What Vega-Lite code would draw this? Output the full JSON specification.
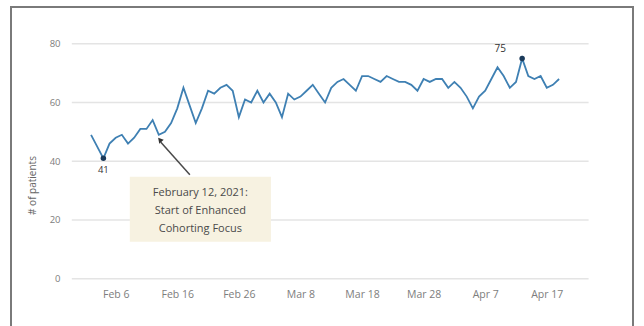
{
  "$schema": "https://vega.github.io/schema/vega-lite/v6.json",
  "width": 622,
  "height": 330.5,
  "autosize": {"type": "none"},
  "padding": {"left": 11, "top": 7, "right": 11, "bottom": -11.5},
  "background": "white",
  "config": {
    "view": {"stroke": "#7a7a7a", "strokeWidth": 2},
    "font": "Open Sans"
  },
  "data": {
    "values": [
      {"date": "2021-02-02T00:00", "value": 49},
      {"date": "2021-02-03T00:00", "value": 45},
      {"date": "2021-02-04T00:00", "value": 41},
      {"date": "2021-02-05T00:00", "value": 46},
      {"date": "2021-02-06T00:00", "value": 48},
      {"date": "2021-02-07T00:00", "value": 49},
      {"date": "2021-02-08T00:00", "value": 46},
      {"date": "2021-02-09T00:00", "value": 48},
      {"date": "2021-02-10T00:00", "value": 51},
      {"date": "2021-02-11T00:00", "value": 51},
      {"date": "2021-02-12T00:00", "value": 54},
      {"date": "2021-02-13T00:00", "value": 49},
      {"date": "2021-02-14T00:00", "value": 50},
      {"date": "2021-02-15T00:00", "value": 53},
      {"date": "2021-02-16T00:00", "value": 58},
      {"date": "2021-02-17T00:00", "value": 65},
      {"date": "2021-02-18T00:00", "value": 59},
      {"date": "2021-02-19T00:00", "value": 53},
      {"date": "2021-02-20T00:00", "value": 58},
      {"date": "2021-02-21T00:00", "value": 64},
      {"date": "2021-02-22T00:00", "value": 63},
      {"date": "2021-02-23T00:00", "value": 65},
      {"date": "2021-02-24T00:00", "value": 66},
      {"date": "2021-02-25T00:00", "value": 64},
      {"date": "2021-02-26T00:00", "value": 55},
      {"date": "2021-02-27T00:00", "value": 61},
      {"date": "2021-02-28T00:00", "value": 60},
      {"date": "2021-03-01T00:00", "value": 64},
      {"date": "2021-03-02T00:00", "value": 60},
      {"date": "2021-03-03T00:00", "value": 63},
      {"date": "2021-03-04T00:00", "value": 60},
      {"date": "2021-03-05T00:00", "value": 55},
      {"date": "2021-03-06T00:00", "value": 63},
      {"date": "2021-03-07T00:00", "value": 61},
      {"date": "2021-03-08T00:00", "value": 62},
      {"date": "2021-03-09T00:00", "value": 64},
      {"date": "2021-03-10T00:00", "value": 66},
      {"date": "2021-03-11T00:00", "value": 63},
      {"date": "2021-03-12T00:00", "value": 60},
      {"date": "2021-03-13T00:00", "value": 65},
      {"date": "2021-03-14T00:00", "value": 67},
      {"date": "2021-03-15T00:00", "value": 68},
      {"date": "2021-03-16T00:00", "value": 66},
      {"date": "2021-03-17T00:00", "value": 64},
      {"date": "2021-03-18T00:00", "value": 69},
      {"date": "2021-03-19T00:00", "value": 69},
      {"date": "2021-03-20T00:00", "value": 68},
      {"date": "2021-03-21T00:00", "value": 67},
      {"date": "2021-03-22T00:00", "value": 69},
      {"date": "2021-03-23T00:00", "value": 68},
      {"date": "2021-03-24T00:00", "value": 67},
      {"date": "2021-03-25T00:00", "value": 67},
      {"date": "2021-03-26T00:00", "value": 66},
      {"date": "2021-03-27T00:00", "value": 64},
      {"date": "2021-03-28T00:00", "value": 68},
      {"date": "2021-03-29T00:00", "value": 67},
      {"date": "2021-03-30T00:00", "value": 68},
      {"date": "2021-03-31T00:00", "value": 68},
      {"date": "2021-04-01T00:00", "value": 65},
      {"date": "2021-04-02T00:00", "value": 67},
      {"date": "2021-04-03T00:00", "value": 65},
      {"date": "2021-04-04T00:00", "value": 62},
      {"date": "2021-04-05T00:00", "value": 58},
      {"date": "2021-04-06T00:00", "value": 62},
      {"date": "2021-04-07T00:00", "value": 64},
      {"date": "2021-04-08T00:00", "value": 68},
      {"date": "2021-04-09T00:00", "value": 72},
      {"date": "2021-04-10T00:00", "value": 69},
      {"date": "2021-04-11T00:00", "value": 65},
      {"date": "2021-04-12T00:00", "value": 67},
      {"date": "2021-04-13T00:00", "value": 75},
      {"date": "2021-04-14T00:00", "value": 69},
      {"date": "2021-04-15T00:00", "value": 68},
      {"date": "2021-04-16T00:00", "value": 69},
      {"date": "2021-04-17T00:00", "value": 65},
      {"date": "2021-04-18T00:00", "value": 66},
      {"date": "2021-04-19T00:00", "value": 68}
    ]
  },
  "layer": [
    {
      "data": {"values": [{"value": 0}, {"value": 20}, {"value": 40}, {"value": 60}, {"value": 80}]},
      "mark": {"type": "rule", "color": "#e4e4e4", "strokeWidth": 1.6},
      "encoding": {
        "x": {
          "datum": {"year": 2021, "month": 1, "date": 29, "hours": 21},
          "type": "temporal",
          "scale": {"domain": [{"year": 2021, "month": 1, "date": 20}, {"year": 2021, "month": 5, "date": 1}]},
          "axis": {
            "values": [
              {"year": 2021, "month": 2, "date": 6},
              {"year": 2021, "month": 2, "date": 16},
              {"year": 2021, "month": 2, "date": 26},
              {"year": 2021, "month": 3, "date": 8},
              {"year": 2021, "month": 3, "date": 18},
              {"year": 2021, "month": 3, "date": 28},
              {"year": 2021, "month": 4, "date": 7},
              {"year": 2021, "month": 4, "date": 17}
            ],
            "format": "%b %-d",
            "grid": false,
            "domain": false,
            "ticks": false,
            "offset": -43,
            "labelPadding": 0,
            "labelBaseline": "middle",
            "labelColor": "#7d7d7d",
            "labelFontSize": 10.5,
            "labelFlush": false,
            "labelOverlap": false,
            "title": null
          }
        },
        "x2": {"datum": {"year": 2021, "month": 4, "date": 23, "hours": 19}},
        "y": {
          "field": "value",
          "type": "quantitative",
          "scale": {"domain": [-20, 92.5], "nice": false, "zero": false},
          "axis": {
            "values": [0, 20, 40, 60, 80],
            "grid": false,
            "domain": false,
            "ticks": false,
            "offset": -50,
            "labelPadding": 1,
            "labelColor": "#7d7d7d",
            "labelFontSize": 9.5,
            "title": "# of patients",
            "titleColor": "#666666",
            "titleFontSize": 10,
            "titleFontWeight": "normal",
            "titleAngle": -90,
            "titleX": -29,
            "titleY": 178,
            "titleAlign": "center",
            "titleBaseline": "middle"
          }
        }
      }
    },
    {
      "data": {"values": [{"note": "February 12, 2021"}]},
      "mark": {"type": "rect", "color": "#f7f2e1"},
      "encoding": {
        "x": {"datum": {"year": 2021, "month": 2, "date": 8, "hours": 7}, "type": "temporal"},
        "x2": {"datum": {"year": 2021, "month": 3, "date": 3, "hours": 5}},
        "y": {"datum": 34.7, "type": "quantitative"},
        "y2": {"datum": 12.6}
      }
    },
    {
      "data": {"values": [{"note": "February 12, 2021"}]},
      "mark": {
        "type": "text",
        "text": ["February 12, 2021:", "Start of Enhanced", "Cohorting Focus"],
        "align": "center",
        "baseline": "middle",
        "lineHeight": 18,
        "fontSize": 11,
        "color": "#4a4a4a"
      },
      "encoding": {
        "x": {"datum": {"year": 2021, "month": 2, "date": 19, "hours": 18}, "type": "temporal"},
        "y": {"datum": 29.3, "type": "quantitative"}
      }
    },
    {
      "data": {"values": [{"note": "February 12, 2021"}]},
      "mark": {"type": "rule", "color": "#4a4a4a", "strokeWidth": 1.5},
      "encoding": {
        "x": {"datum": {"year": 2021, "month": 2, "date": 18, "hours": 1}, "type": "temporal"},
        "x2": {"datum": {"year": 2021, "month": 2, "date": 13, "hours": 8}},
        "y": {"datum": 35.4, "type": "quantitative"},
        "y2": {"datum": 46.5}
      }
    },
    {
      "data": {"values": [{"note": "February 12, 2021"}]},
      "mark": {"type": "point", "shape": "triangle-up", "angle": 319, "size": 35, "filled": true, "color": "#333333", "opacity": 1},
      "encoding": {
        "x": {"datum": {"year": 2021, "month": 2, "date": 13, "hours": 4}, "type": "temporal"},
        "y": {"datum": 47.3, "type": "quantitative"}
      }
    },
    {
      "mark": {"type": "line", "color": "#3f80b3", "strokeWidth": 1.8},
      "encoding": {
        "x": {"field": "date", "type": "temporal"},
        "y": {"field": "value", "type": "quantitative"}
      }
    },
    {
      "transform": [{"filter": "datum.value == 41 || datum.value == 75"}],
      "mark": {"type": "point", "filled": true, "size": 30, "color": "#1b3a5a", "opacity": 1},
      "encoding": {
        "x": {"field": "date", "type": "temporal"},
        "y": {"field": "value", "type": "quantitative"}
      }
    },
    {
      "transform": [{"filter": "datum.value == 41"}],
      "mark": {"type": "text", "dy": 12, "fontSize": 9.5, "color": "#333333"},
      "encoding": {
        "x": {"field": "date", "type": "temporal"},
        "y": {"field": "value", "type": "quantitative"},
        "text": {"field": "value", "type": "quantitative"}
      }
    },
    {
      "transform": [{"filter": "datum.value == 75"}],
      "mark": {"type": "text", "dx": -22, "dy": -9, "fontSize": 10, "color": "#333333"},
      "encoding": {
        "x": {"field": "date", "type": "temporal"},
        "y": {"field": "value", "type": "quantitative"},
        "text": {"field": "value", "type": "quantitative"}
      }
    }
  ]
}
